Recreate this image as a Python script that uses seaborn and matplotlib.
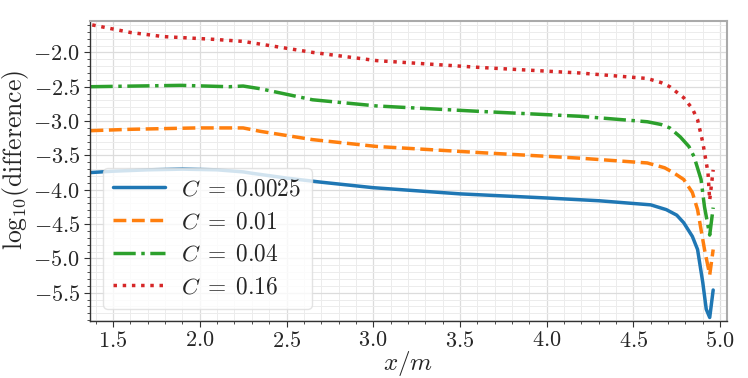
import matplotlib
matplotlib.use("Agg")
import matplotlib.pyplot as plt
import seaborn as sns
import pandas as pd
from matplotlib.ticker import MultipleLocator, FuncFormatter

# values
x_a = [1.37, 1.50, 1.70, 1.90, 2.10, 2.25, 2.30, 2.50, 2.70, 3.00, 3.50, 4.00, 4.30, 4.60, 4.69, 4.75, 4.79, 4.84, 4.87, 4.90, 4.92, 4.94, 4.96]
c0025 = [-3.75, -3.73, -3.71, -3.70, -3.71, -3.74, -3.76, -3.83, -3.89, -3.97, -4.06, -4.12, -4.16, -4.22, -4.29, -4.37, -4.48, -4.68, -4.87, -5.35, -5.74, -5.86, -5.46]

x_b = [1.37, 1.60, 1.98, 2.25, 2.35, 2.65, 3.02, 3.62, 4.19, 4.58, 4.68, 4.73, 4.79, 4.84, 4.87, 4.91, 4.94, 4.96]
c001 = [-3.14, -3.12, -3.10, -3.10, -3.15, -3.27, -3.37, -3.46, -3.54, -3.61, -3.68, -3.75, -3.85, -4.04, -4.29, -4.87, -5.24, -4.87]

x_c = [1.37, 1.89, 2.17, 2.25, 2.35, 2.65, 3.02, 3.62, 4.19, 4.58, 4.66, 4.71, 4.77, 4.82, 4.85, 4.89, 4.91, 4.94, 4.96]
c004 = [-2.50, -2.48, -2.50, -2.49, -2.53, -2.69, -2.78, -2.86, -2.93, -3.01, -3.05, -3.10, -3.23, -3.37, -3.52, -3.85, -4.25, -4.66, -4.26]

x_d = [1.38, 1.60, 1.79, 2.08, 2.25, 2.35, 2.65, 3.02, 3.62, 4.19, 4.58, 4.66, 4.71, 4.79, 4.84, 4.87, 4.90, 4.93, 4.94, 4.96]
c016 = [-1.60, -1.71, -1.77, -1.81, -1.84, -1.88, -2.00, -2.12, -2.22, -2.30, -2.38, -2.44, -2.50, -2.66, -2.82, -2.98, -3.31, -3.75, -4.15, -3.71]

labels = [r"$C\;=\;0.0025$", r"$C\;=\;0.01$", r"$C\;=\;0.04$", r"$C\;=\;0.16$"]
colors = ["#1f77b4", "#ff7f0e", "#2ca02c", "#d62728"]
styles = ["-", "--", "-.", ":"]

sns.set_style("whitegrid")
plt.rcParams["font.family"] = "serif"
plt.rcParams["font.serif"] = ["cmr10", "DejaVu Serif"]
plt.rcParams["mathtext.fontset"] = "cm"

fig = plt.figure(figsize=(7.48, 3.78), dpi=100)
ax = fig.add_axes([0.1203, 0.151, 0.8517, 0.794])

series = [(x_a, c0025), (x_b, c001), (x_c, c004), (x_d, c016)]
for (xs, ys), lab, col, ls in zip(series, labels, colors, styles):
    df = pd.DataFrame({"x": xs, "y": ys})
    sns.lineplot(data=df, x="x", y="y", ax=ax, color=col, linestyle=ls,
                 linewidth=2.5, label=lab)

ax.set_xlim(1.367, 5.04)
ax.set_ylim(-5.91, -1.54)
ax.xaxis.set_major_locator(MultipleLocator(0.5))
ax.xaxis.set_minor_locator(MultipleLocator(0.1))
ax.yaxis.set_major_locator(MultipleLocator(0.5))
ax.yaxis.set_minor_locator(MultipleLocator(0.1))
fmt = FuncFormatter(lambda v, p: r"$%.1f$" % v)
ax.xaxis.set_major_formatter(fmt)
ax.yaxis.set_major_formatter(fmt)
ax.grid(which="major", color="#dcdcdc", linewidth=0.9)
ax.grid(which="minor", color="#ececec", linewidth=0.7)
ax.tick_params(which="major", direction="out", length=4, width=0.8, color="#333333",
               bottom=True, left=True, labelsize=16, pad=3)
ax.tick_params(which="minor", direction="out", length=2, width=0.6, color="#333333",
               bottom=True, left=True)
for s in ["left", "bottom"]:
    ax.spines[s].set_color("#333333")
    ax.spines[s].set_linewidth(1.0)
for s in ["top", "right"]:
    ax.spines[s].set_color("#aaaaaa")
    ax.spines[s].set_linewidth(1.5)

ax.set_xlabel(r"$x/m$", fontsize=18)
ax.set_ylabel(r"$\mathrm{log}_{10}(\mathrm{difference})$", fontsize=18.5)
ax.xaxis.set_label_coords(0.499, -0.092)
ax.yaxis.set_label_coords(-0.092, 0.537)

ax.legend(loc="lower left", bbox_to_anchor=(0.0204, 0.04), borderaxespad=0,
          fontsize=16.8, handlelength=2.2, handletextpad=0.7,
          labelspacing=0.45, borderpad=0.45,
          framealpha=0.8, edgecolor="#dddddd")

fig.savefig("out.png", dpi=100)
